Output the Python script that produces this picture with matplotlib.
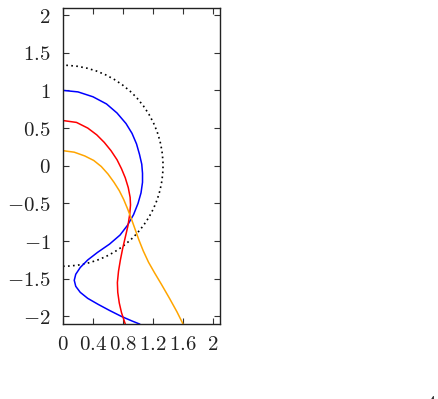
import matplotlib
matplotlib.use("Agg")
import matplotlib.pyplot as plt
from matplotlib.patches import Arc

plt.rcParams['mathtext.fontset'] = 'cm'
plt.rcParams['font.family'] = 'serif'

# curves (x, y in data units)
blue_x = [0.00, 0.20, 0.40, 0.58, 0.72, 0.84, 0.92, 0.98, 1.02, 1.05, 1.06, 1.06, 1.04, 1.00, 0.94,
          0.86, 0.76, 0.62, 0.46, 0.33, 0.23, 0.17, 0.15, 0.17, 0.23, 0.33, 0.47, 0.62, 0.78, 0.92, 1.02]
blue_y = [1.00, 0.98, 0.915, 0.82, 0.70, 0.56, 0.43, 0.29, 0.15, 0.02, -0.10, -0.22, -0.36, -0.50, -0.65,
          -0.79, -0.92, -1.04, -1.15, -1.25, -1.35, -1.44, -1.52, -1.60, -1.68, -1.76, -1.84, -1.92, -2.00, -2.06, -2.10]

red_x = [0.00, 0.18, 0.33, 0.45, 0.55, 0.64, 0.72, 0.78, 0.83, 0.87, 0.895, 0.90, 0.89, 0.865, 0.83,
         0.795, 0.765, 0.74, 0.725, 0.73, 0.75, 0.78, 0.83]
red_y = [0.60, 0.575, 0.50, 0.41, 0.31, 0.20, 0.08, -0.04, -0.16, -0.29, -0.42, -0.52, -0.64, -0.80, -0.95,
         -1.10, -1.25, -1.40, -1.55, -1.68, -1.82, -1.95, -2.10]

orange_x = [0.00, 0.15, 0.29, 0.41, 0.51, 0.60, 0.68, 0.75, 0.81, 0.86, 0.91, 0.96, 1.01, 1.07, 1.14,
            1.22, 1.31, 1.42, 1.52, 1.60]
orange_y = [0.20, 0.18, 0.13, 0.07, -0.01, -0.11, -0.22, -0.33, -0.45, -0.57, -0.70, -0.84, -0.98, -1.13, -1.28,
            -1.42, -1.57, -1.76, -1.94, -2.10]

circle_r = 4 / 3

x_ticks = [0, 0.4, 0.8, 1.2, 1.6, 2]
x_labels = ['0', '0.4', '0.8', '1.2', '1.6', '2']
y_ticks = [-2, -1.5, -1, -0.5, 0, 0.5, 1, 1.5, 2]
y_labels = ['-2', '-1.5', '-1', '-0.5', '0', '0.5', '1', '1.5', '2']

fig = plt.figure(figsize=(4.39, 3.99), dpi=100)
ax = fig.add_axes([63 / 439, 75 / 399, 157 / 439, 316.5 / 399])

ax.add_patch(Arc((0, 0), 2 * circle_r, 2 * circle_r, theta1=-90, theta2=90,
                 color='black', lw=1.2, linestyle=(0, (1, 2))))
ax.plot(blue_x, blue_y, color='blue', lw=1.1, solid_joinstyle='round')
ax.plot(red_x, red_y, color='red', lw=1.1, solid_joinstyle='round')
ax.plot(orange_x, orange_y, color='orange', lw=1.1, solid_joinstyle='round')

ax.set_xlim(0, 2.093)
ax.set_ylim(-2.1, 2.1)
ax.set_xticks(x_ticks)
ax.set_xticklabels(['$%s$' % s for s in x_labels])
ax.set_yticks(y_ticks)
ax.set_yticklabels(['$%s$' % s for s in y_labels])
ax.tick_params(direction='in', top=True, right=True, length=4, width=0.8,
               labelsize=15, colors='#333333', labelcolor='#222222')
ax.tick_params(axis='y', pad=9)
ax.tick_params(axis='x', pad=8)
for s in ax.spines.values():
    s.set_linewidth(1.0)
    s.set_color('#222222')

# clipped label fragment in the lower right corner
fig.text(425 / 439, 1 - 395.5 / 399, '$4$', fontsize=15, va='top', ha='left', color='#222222')

fig.savefig('out.png', dpi=100)
